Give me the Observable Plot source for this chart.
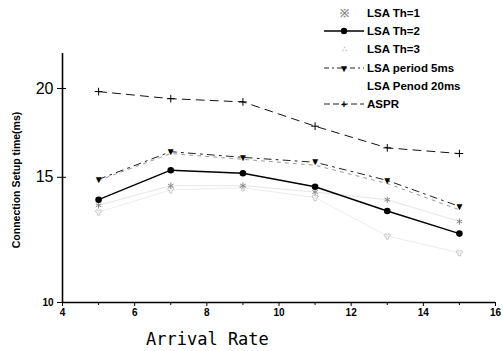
<!DOCTYPE html>
<html><head><meta charset="utf-8">
<script src="https://cdn.jsdelivr.net/npm/d3@7"></script>
<script src="https://cdn.jsdelivr.net/npm/@observablehq/plot@0.6"></script>
<style>
body{margin:0;background:#fff;}
#wrap{position:relative;width:503px;height:351px;overflow:hidden;font-family:"Liberation Sans",Arial,sans-serif;}
#ylab{position:absolute;left:16px;top:180px;transform:translate(-50%,-50%) rotate(-90deg);font-weight:bold;font-size:10.5px;white-space:nowrap;}
#xlab{position:absolute;left:146px;top:329px;font-family:"DejaVu Sans Mono",monospace;font-size:17px;white-space:nowrap;}
#legend{position:absolute;left:322px;top:4px;font-weight:bold;font-size:11.5px;}
.row{height:18.2px;display:flex;align-items:center;}
.row svg{width:44px;height:14px;margin-right:1px;}
</style></head>
<body><div id="wrap"><div id="ylab">Connection Setup time(ms)</div><div id="xlab">Arrival Rate</div><div id="legend"></div></div>
<script>
const arrival = [5, 7, 9, 11, 13, 15];
const th1 = [13.7, 14.6, 14.6, 14.3, 13.95, 13.0];
const th2 = [13.95, 15.35, 15.2, 14.55, 13.45, 12.5];
const th3 = [13.4, 14.4, 14.5, 14.05, 12.4, 11.75];
const period5 = [14.9, 16.3, 16.0, 15.75, 14.85, 13.65];
const period20 = [14.85, 16.2, 15.9, 15.6, 14.7, 13.5];
const aspr = [19.8, 19.35, 19.15, 17.7, 16.5, 16.2];
const xTicks = [4, 6, 8, 10, 12, 14, 16];
const xMinor = [5, 7, 9, 11, 13, 15];
const yBig = [15, 20];
const ySmall = [10];
const names = ["LSA Th=1","LSA Th=2","LSA Th=3","LSA period 5ms","LSA Penod 20ms","ASPR"];

const rows = s => arrival.map((x,i)=>({x, y: s[i]}));
const d1 = rows(th1), d2 = rows(th2), d3 = rows(th3), d5 = rows(period5), d20 = rows(period20), dA = rows(aspr);

const plot = Plot.plot({
  width: 503, height: 351,
  marginLeft: 62, marginRight: 8, marginTop: 53, marginBottom: 49,
  x: {type: "linear", domain: [4, 16]},
  y: {type: "log", domain: [10, 22.4]},
  style: {fontFamily: "Liberation Sans, Arial, sans-serif", color: "#000"},
  marks: [
    Plot.line(d3, {x:"x", y:"y", stroke:"#ececec", strokeWidth:1}),
    Plot.dot(d3, {x:"x", y:"y", symbol:"wye", r:2.5, stroke:"#bbb", strokeWidth:0.8}),
    Plot.line(d1, {x:"x", y:"y", stroke:"#e6e6e6", strokeWidth:1}),
    Plot.dot(d1, {x:"x", y:"y", symbol:"asterisk", r:3, stroke:"#888", strokeWidth:1}),
    Plot.line(d20, {x:"x", y:"y", stroke:"#999", strokeWidth:1, strokeDasharray:"3,5"}),
    Plot.line(d5, {x:"x", y:"y", stroke:"#222", strokeWidth:1, strokeDasharray:"7,5,2,5"}),
    Plot.text(d5, {x:"x", y:"y", text: () => "▼", fontSize: 10, fill:"#000"}),
    Plot.line(d2, {x:"x", y:"y", stroke:"#000", strokeWidth:1.4}),
    Plot.dot(d2, {x:"x", y:"y", r:3.3, fill:"#000"}),
    Plot.line(dA, {x:"x", y:"y", stroke:"#111", strokeWidth:1, strokeDasharray:"8,6"}),
    Plot.dot(dA, {x:"x", y:"y", symbol:"plus", r:2.6, stroke:"#000", strokeWidth:1}),
    Plot.ruleX(xTicks.slice(0,1), {stroke:"#000", strokeWidth:1.6}),
    Plot.ruleY(ySmall, {stroke:"#000", strokeWidth:1.6}),
    Plot.axisX({ticks: xTicks, tickSize: 4, tickPadding: 2, fontWeight:"bold", fontSize: 10, label: null}),
    Plot.axisX({ticks: xMinor, tickSize: 3, tickFormat: () => "", label: null}),
    Plot.axisY({ticks: yBig, tickSize: 5, tickPadding: 4, fontSize: 16, label: null}),
    Plot.axisY({ticks: yBig, tickSize: -4, tickFormat: () => "", label: null}),
    Plot.axisY({ticks: ySmall, tickSize: 5, tickPadding: 4, fontSize: 10, fontWeight:"bold", label: null})
  ]
});
document.getElementById("wrap").prepend(plot);
plot.style.position = "absolute"; plot.style.left = "0"; plot.style.top = "0";

const sample = [
  `<text x="22" y="11" font-size="11" fill="#888" text-anchor="middle">※</text>`,
  `<line x1="2" x2="42" y1="7" y2="7" stroke="#000" stroke-width="1.4"/><circle cx="22" cy="7" r="3.2"/>`,
  `<text x="22" y="10" font-size="8" fill="#bbb" text-anchor="middle">∴</text>`,
  `<line x1="2" x2="42" y1="7" y2="7" stroke="#222" stroke-dasharray="5,3,2,3"/><text x="22" y="11" font-size="10" text-anchor="middle">▼</text>`,
  ``,
  `<line x1="2" x2="42" y1="7" y2="7" stroke="#222" stroke-dasharray="6,3"/><text x="22" y="10.5" font-size="10" text-anchor="middle">+</text>`
];
document.getElementById("legend").innerHTML = names.map((n,i)=>
  `<div class="row"><svg viewBox="0 0 44 14">${sample[i]}</svg><span>${n}</span></div>`).join("");
</script></body></html>
